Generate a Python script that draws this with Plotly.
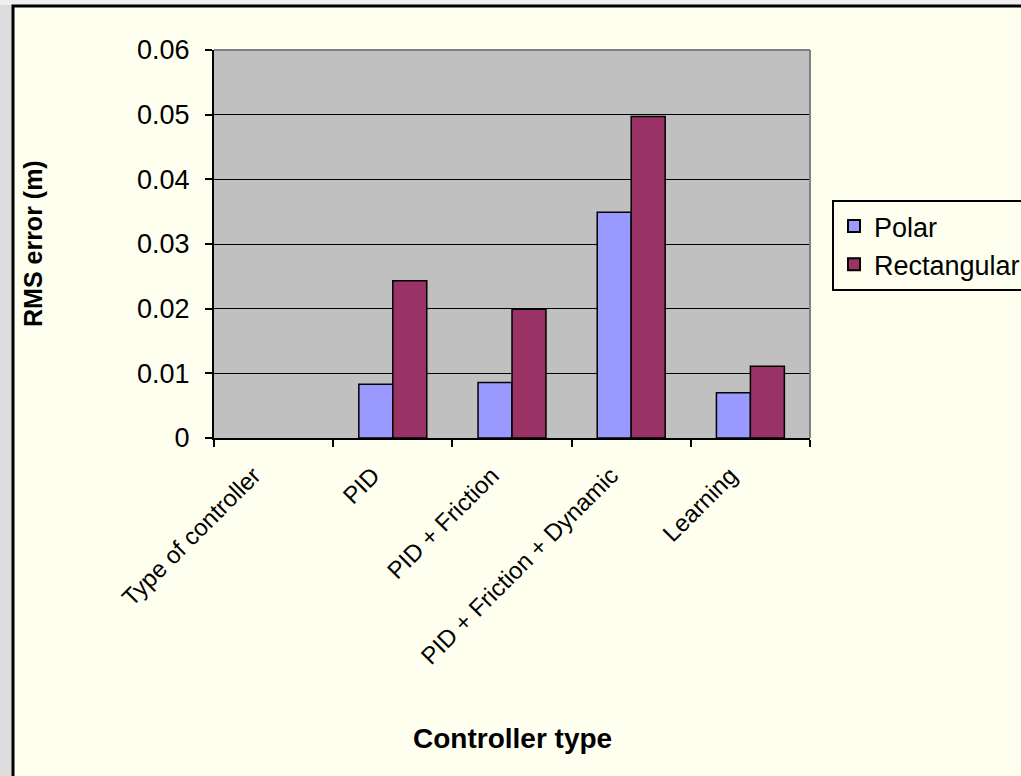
import plotly.graph_objects as go

categories = ["Type of controller", "PID", "PID + Friction", "PID + Friction + Dynamic", "Learning"]
polar = [None, 0.0083, 0.0086, 0.0349, 0.0070]
rectangular = [None, 0.0243, 0.0199, 0.0497, 0.0111]
y_ticks = [0, 0.01, 0.02, 0.03, 0.04, 0.05, 0.06]
y_tick_text = ["0", "0.01", "0.02", "0.03", "0.04", "0.05", "0.06"]

W, H = 1021, 776
L, R, T, B = 214, 810, 50, 438
PW, PH = R - L, B - T

def px(x):
    return (x - L) / PW

def py(y):
    return (B - y) / PH

FONT = "Liberation Sans, Arial, sans-serif"
BG = "#FFFFF0"

fig = go.Figure()
fig.add_trace(go.Bar(name="Polar", x=categories, y=polar,
                     marker=dict(color="#9999FF", line=dict(color="black", width=1.5))))
fig.add_trace(go.Bar(name="Rectangular", x=categories, y=rectangular,
                     marker=dict(color="#993366", line=dict(color="black", width=1.5))))

shapes = [
    dict(type="rect", xref="paper", yref="paper", x0=px(-50), x1=px(12), y0=py(900), y1=py(-50),
         fillcolor="#DCDCDC", line=dict(width=0), layer="below"),
    dict(type="rect", xref="paper", yref="paper", x0=px(-50), x1=px(1100), y0=py(5), y1=py(-50),
         fillcolor="#EFEFEF", line=dict(width=0), layer="below"),
    dict(type="rect", xref="paper", yref="paper", x0=px(13), x1=px(1100), y0=py(900), y1=py(6),
         fillcolor="rgba(0,0,0,0)", line=dict(color="black", width=3), layer="below"),
    dict(type="line", xref="paper", yref="paper", x0=0, x1=1, y0=1, y1=1,
         line=dict(color="#808080", width=2)),
    dict(type="line", xref="paper", yref="paper", x0=1, x1=1, y0=0, y1=1,
         line=dict(color="#808080", width=2)),
]

annotations = [
    dict(text="<b>RMS error (m)</b>", xref="paper", yref="paper", x=px(33), y=py(244),
         textangle=-90, showarrow=False, font=dict(size=25, color="black", family=FONT),
         xanchor="center", yanchor="middle"),
    dict(text="<b>Controller type</b>", xref="paper", yref="paper", x=px(512), y=py(738),
         showarrow=False, font=dict(size=28, color="black", family=FONT),
         xanchor="center", yanchor="middle"),
]

fig.update_layout(
    width=W, height=H,
    margin=dict(l=L, r=W - R, t=T, b=H - B, autoexpand=False),
    paper_bgcolor=BG, plot_bgcolor="#C0C0C0",
    font=dict(family=FONT, size=24, color="black"),
    barmode="group", bargap=0.43, bargroupgap=0,
    showlegend=True,
    legend=dict(x=px(832), y=py(200), xanchor="left", yanchor="top",
                bgcolor=BG, bordercolor="black", borderwidth=2,
                font=dict(size=27, family=FONT, color="black"),
                tracegroupgap=0, itemsizing="constant"),
    shapes=shapes, annotations=annotations,
    xaxis=dict(type="category", tickangle=-45, tickson="boundaries",
               ticks="outside", ticklen=7, tickwidth=2, tickcolor="black",
               showline=True, linecolor="black", linewidth=2, showgrid=False,
               range=[-0.5, 4.5], tickfont=dict(size=24, family=FONT),
               ticklabelshift=-20, ticklabelstandoff=12),
    yaxis=dict(range=[0, 0.06], tickvals=y_ticks, ticktext=y_tick_text,
               ticks="outside", ticklen=7, tickwidth=2, tickcolor="black",
               showline=True, linecolor="black", linewidth=2,
               showgrid=True, gridcolor="black", gridwidth=1,
               zeroline=False, tickfont=dict(size=27, family=FONT),
               ticklabelstandoff=10),
)

fig.write_html("out.html")
